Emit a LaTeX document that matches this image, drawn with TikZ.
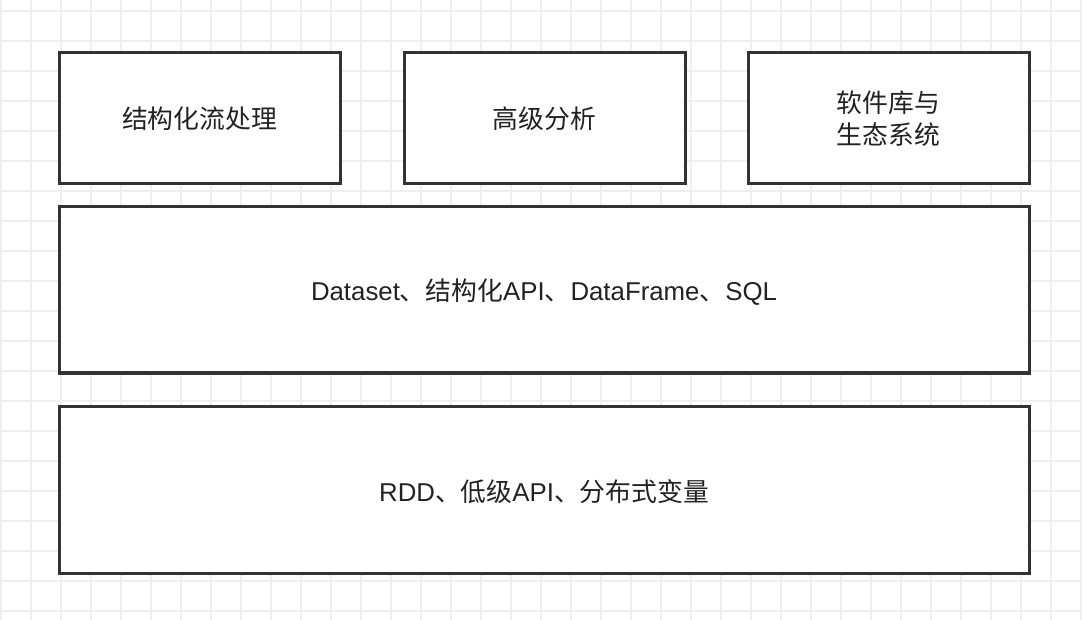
\documentclass[tikz,border=0pt]{standalone}
\usepackage{fontspec}
\setmainfont{Noto Sans CJK SC}
\newfontfamily\latinf{Liberation Sans}
\newcommand{\lt}[1]{{\latinf #1}}
\definecolor{gridc}{HTML}{EFEFEF}
\definecolor{boxc}{HTML}{333333}
\definecolor{txtc}{HTML}{222222}
\begin{document}
\begin{tikzpicture}[x=1pt,y=-1pt,
  layer/.style={draw=boxc,fill=white,line width=3pt,text=txtc,align=center,
    font=\fontsize{25.8}{32}\selectfont}]
\useasboundingbox (0,0) rectangle (1082,620);
\fill[white] (0,0) rectangle (1082,620);
\foreach \x in {1,31,...,1081} \draw[gridc,line width=1.5pt] (\x,0) -- (\x,620);
\foreach \y in {11,41,...,611} \draw[gridc,line width=1.5pt] (0,\y) -- (1082,\y);
\draw[layer] (59,53) rectangle (340,184) node[midway] (s) {结构化流处理};
\draw[layer] (404,53) rectangle (685,184) node[midway] (a) {高级分析};
\draw[layer] (748,53) rectangle (1029,184) node[midway] (e) {软件库与\\生态系统};
\draw[layer] (59,207) rectangle (1029,373) node[midway,yshift=-2pt] (d) {\lt{Dataset}、结构化\lt{API}、\lt{DataFrame}、\lt{SQL}};
\draw[layer] (59,406) rectangle (1029,573) node[midway,yshift=-2pt] (r) {\lt{RDD}、低级\lt{API}、分布式变量};
\end{tikzpicture}
\end{document}
